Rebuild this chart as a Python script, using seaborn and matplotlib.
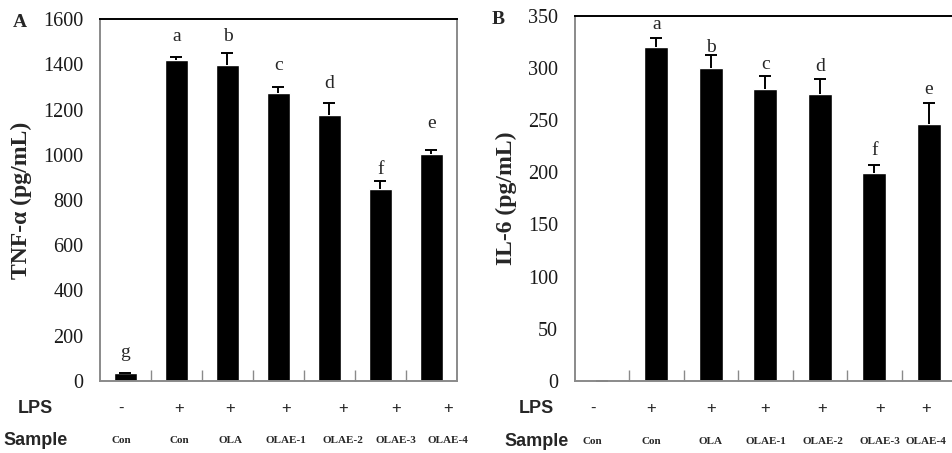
import pandas as pd
import numpy as np
import matplotlib
matplotlib.use('Agg')
import matplotlib.pyplot as plt
import seaborn as sns
from matplotlib.ticker import FixedLocator

# data
groups = ['g1', 'g2', 'g3', 'g4', 'g5', 'g6', 'g7']
lps = ['-', '+', '+', '+', '+', '+', '+']
samples = ['Con', 'Con', 'OLA', 'OLAE-1', 'OLAE-2', 'OLAE-3', 'OLAE-4']

tnf_mean = [34, 1420, 1398, 1275, 1174, 848, 1002]
tnf_err = [0, 13, 50, 26, 57, 35, 19]
tnf_letters = ['g', 'a', 'b', 'c', 'd', 'f', 'e']
tnf_letter_y = [108, 1504, 1504, 1375, 1297, 913, 1120]

il6_mean = [0, 320, 300, 279.5, 275, 199.5, 246.5]
il6_err = [0, 9, 12, 12.5, 14, 7.5, 19.5]
il6_letters = ['', 'a', 'b', 'c', 'd', 'f', 'e']
il6_letter_y = [0, 337, 315, 299.5, 297, 217, 275]

sns.set_style('white')
plt.rcParams['font.family'] = ['Liberation Serif', 'DejaVu Serif']

fig = plt.figure(figsize=(9.53, 4.53), dpi=100)
axA = fig.add_axes([0.1049, 0.159, 0.3746, 0.799])
axB = fig.add_axes([0.603, 0.159, 0.4003, 0.806])

spine_grey = '#8a8a8a'


def panel(ax, mean, err, letters, letter_y, ymax, step, ylabel, tag, tag_x,
          lab_x, lps_x, right_spine):
    df = pd.DataFrame({'group': groups, 'value': mean})
    sns.barplot(data=df, x='group', y='value', order=groups, color='black',
                width=0.44, saturation=1, ax=ax)
    x = np.arange(len(groups))
    eb = ax.errorbar(x, mean, yerr=[np.zeros(len(err)), err], fmt='none',
                     ecolor='black', elinewidth=1.4, capsize=4, capthick=1.4)
    # keep only the upper caps
    eb[1][0].remove()
    for xi, t, ty in zip(x, letters, letter_y):
        if t:
            ax.text(xi, ty, t, ha='center', va='baseline', fontsize=14)
    ax.set_xlim(-0.5, len(groups) - 0.5)
    ax.set_ylim(0, ymax)
    ax.set_yticks(np.arange(0, ymax + 1, step))
    ax.tick_params(axis='y', direction='in', length=4, width=1, color=spine_grey,
                   labelsize=14.5, labelcolor='#1a1a1a', pad=12)
    ax.set_xticks([])
    ax.xaxis.set_minor_locator(FixedLocator(x[:-1] + 0.5))
    ax.tick_params(axis='x', which='minor', direction='in', length=8, width=1,
                   color=spine_grey, bottom=True)
    ax.set_xlabel('')
    ax.set_ylabel(ylabel, fontsize=17, fontweight='bold', labelpad=8)
    for s in ['left', 'bottom', 'right']:
        ax.spines[s].set_color(spine_grey)
        ax.spines[s].set_linewidth(1.4)
    ax.spines['top'].set_color('black')
    ax.spines['top'].set_linewidth(1.4)
    ax.spines['right'].set_visible(right_spine)
    ax.text(tag_x, 0.99, tag, transform=ax.transAxes, fontsize=14, fontweight='bold',
            ha='center', va='center')
    # LPS / Sample rows under the axis
    tr = ax.get_xaxis_transform()
    ax.text(lab_x, -0.075, 'LPS', transform=ax.transAxes, ha='center', va='center',
            fontsize=13, fontweight='bold', family='Liberation Sans')
    ax.text(lab_x, -0.165, 'Sample', transform=ax.transAxes, ha='center', va='center',
            fontsize=13, fontweight='bold', family='Liberation Sans')
    for px, sign, name in zip(lps_x, lps, samples):
        ax.text(px, -0.075, sign, transform=tr, ha='center', va='center',
                fontsize=12, family='Liberation Sans')
        ax.text(px, -0.165, name, transform=tr, ha='center', va='center',
                fontsize=8, fontweight='bold')


panel(axA, tnf_mean, tnf_err, tnf_letters, tnf_letter_y, 1600, 200,
      'TNF-α (pg/mL)', 'A', -0.225, -0.18,
      [-0.08, 1.05, 2.05, 3.15, 4.27, 5.30, 6.33], True)
panel(axB, il6_mean, il6_err, il6_letters, il6_letter_y, 350, 50,
      'IL-6 (pg/mL)', 'B', -0.2, -0.1,
      [-0.17, 0.9, 2.0, 3.0, 4.05, 5.1, 5.95], False)

fig.savefig('out.png', dpi=100)
